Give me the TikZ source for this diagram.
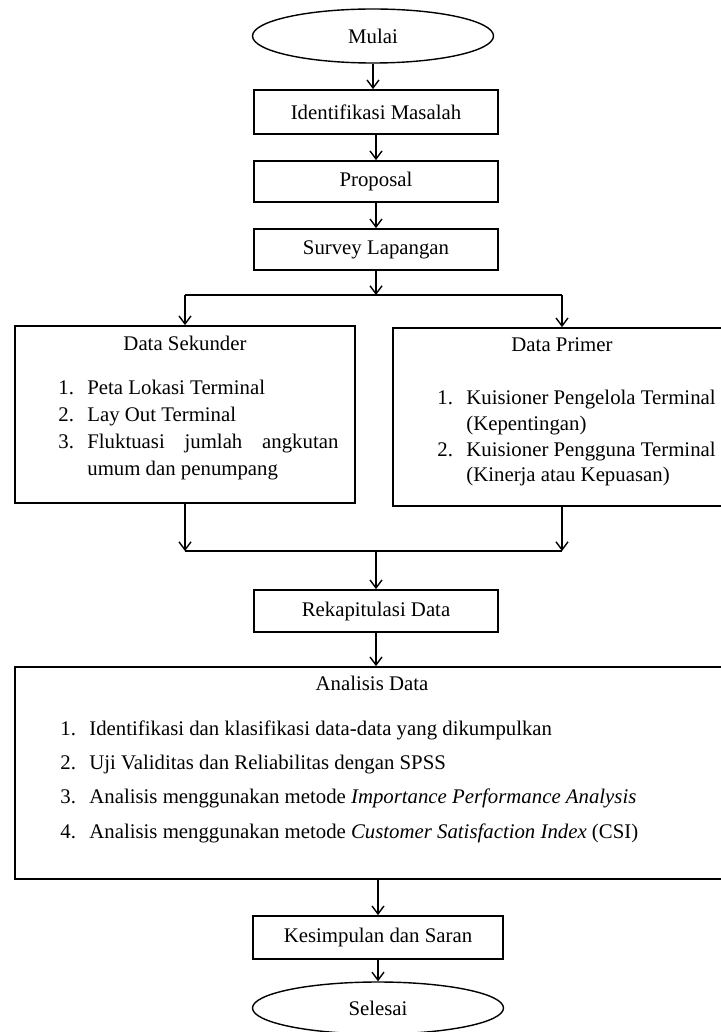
\documentclass[tikz,border=0pt]{standalone}
\usepackage{fontspec}
\setmainfont{Liberation Serif}
\usetikzlibrary{shapes.geometric,arrows.meta}

\newcommand{\nomor}[1]{\makebox[14.5pt][l]{#1}}

\begin{document}
\begin{tikzpicture}[x=0.5pt,y=-0.5pt,>={Straight Barb[length=4pt,width=6pt]},
  font=\fontsize{10.4}{13.5}\selectfont,
  kotak/.style={draw,line width=0.9pt,inner sep=0pt},
  elips/.style={draw,ellipse,line width=0.7pt,inner sep=0pt},
  panah/.style={->,line width=0.7pt},
  daftar/.style={anchor=north west,align=left,inner sep=0pt}]

\useasboundingbox (0,0) rectangle (720,1032);

%Awal
\node[elips, minimum width=120.5pt, minimum height=27pt] (mulai) at (373,36) {Mulai};
\node[kotak, minimum width=122pt, minimum height=22pt] (identifikasi) at (376,112) {Identifikasi Masalah};
\node[kotak, minimum width=122pt, minimum height=20.5pt] (proposal) at (376,181.5) {Proposal};
\node[kotak, minimum width=122pt, minimum height=20.5pt] (survey) at (376,249.5) {Survey Lapangan};

\draw[panah] (mulai.south) -- (mulai.south |- identifikasi.north);
\draw[panah] (identifikasi) -- (proposal);
\draw[panah] (proposal) -- (survey);

%Pengumpulan data
\node[kotak, minimum width=170pt, minimum height=88.5pt] (sekunder) at (185,414.5) {};
\node (judulsekunder) at (185,343) {Data Sekunder};
\node[daftar] (isisekunder) at (58,380) {\nomor{1.}Peta Lokasi Terminal\\
  \nomor{2.}Lay Out Terminal\\
  \nomor{3.}\makebox[125.5pt][s]{Fluktuasi jumlah angkutan}\\
  \hspace*{14.5pt}umum dan penumpang};

\node[kotak, minimum width=169pt, minimum height=89pt] (primer) at (562,417) {};
\node (judulprimer) at (562,345) {Data Primer};
\node[daftar, font=\fontsize{10.4}{12.85}\selectfont] (isiprimer) at (437,390) {\nomor{1.}Kuisioner Pengelola Terminal\\
  \hspace*{14.5pt}(Kepentingan)\\
  \nomor{2.}Kuisioner Pengguna Terminal\\
  \hspace*{14.5pt}(Kinerja atau Kepuasan)};

\coordinate (cabang) at (376,295);
\coordinate (kiriatas) at (185,295);
\coordinate (kananatas) at (562,295);
\coordinate (gabung) at (376,551);
\coordinate (kiribawah) at (185,551);
\coordinate (kananbawah) at (562,551);

\draw[panah] (survey) -- (cabang);
\draw[line width=0.7pt] (kiriatas) -- (kananatas);
\draw[panah] (kiriatas) -- (sekunder);
\draw[panah] (kananatas) -- (primer);
\draw[panah] (sekunder) -- (kiribawah);
\draw[panah] (primer) -- (kananbawah);
\draw[line width=0.7pt] (kiribawah) -- (kananbawah);

%Pengolahan
\node[kotak, minimum width=122pt, minimum height=21pt] (rekap) at (376,611) {Rekapitulasi Data};
\draw[panah] (gabung) -- (rekap);

\node[kotak, minimum width=357pt, minimum height=106pt] (analisis) at (372,773) {};
\node (judulanalisis) at (372,683) {Analisis Data};
\node[daftar, font=\fontsize{10.4}{17.2}\selectfont] (isianalisis) at (60,720) {\nomor{1.}Identifikasi dan klasifikasi data-data yang dikumpulkan\\
  \nomor{2.}Uji Validitas dan Reliabilitas dengan SPSS\\
  \nomor{3.}Analisis menggunakan metode \textit{Importance Performance Analysis}\\
  \nomor{4.}Analisis menggunakan metode \textit{Customer Satisfaction Index} (CSI)};
\draw[panah] (rekap) -- (rekap |- analisis.north);

%Akhir
\node[kotak, minimum width=125pt, minimum height=21.5pt] (kesimpulan) at (378,937.5) {Kesimpulan dan Saran};
\node[elips, minimum width=125.5pt, minimum height=26pt] (selesai) at (378,1008) {Selesai};

\draw[panah] (analisis.south -| kesimpulan.north) -- (kesimpulan.north);
\draw[panah] (kesimpulan) -- (selesai);

\end{tikzpicture}
\end{document}
